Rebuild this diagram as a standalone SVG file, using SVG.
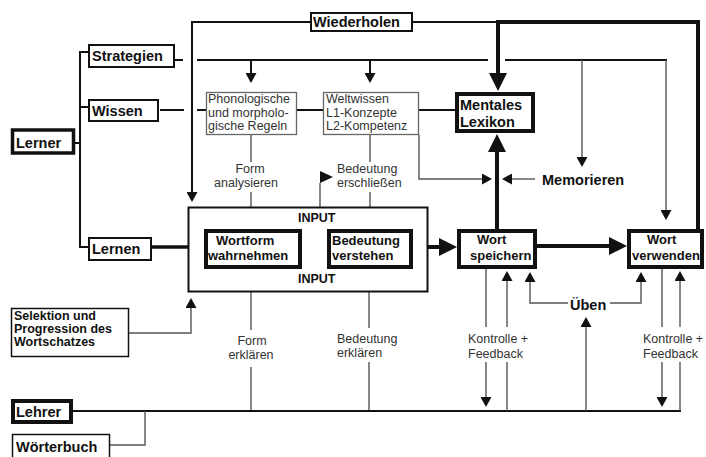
<svg xmlns="http://www.w3.org/2000/svg" width="706" height="457" viewBox="0 0 706 457">
<style>
text{font-family:"Liberation Sans",Arial,sans-serif}
.b{font-weight:bold;font-size:14.5px;fill:#111}
.bm{font-weight:bold;font-size:13px;fill:#111}
.bs{font-weight:bold;font-size:12.5px;fill:#111}
.n{font-size:12.5px;fill:#333}
.nc{font-size:12.5px;fill:#333;text-anchor:middle}
.box{fill:#fff;stroke:#111;stroke-width:2}
.thick{fill:#fff;stroke:#111;stroke-width:4}
.thin{fill:#fff;stroke:#111;stroke-width:1.5}
.gbox{fill:#fff;stroke:#666;stroke-width:1.3}
.k{fill:none;stroke:#111;stroke-width:2}
.g{fill:none;stroke:#555;stroke-width:1.4}
.K{fill:none;stroke:#111;stroke-width:4}
.ah{fill:#111}
</style>
<defs>
<marker id="a" markerUnits="userSpaceOnUse" viewBox="0 0 10 11" refX="2" refY="5.5" markerWidth="10" markerHeight="11" orient="auto"><path d="M0,0 L10,5.5 L0,11 z" fill="#111"/></marker>
<marker id="A" markerUnits="userSpaceOnUse" viewBox="0 0 18 18" refX="2" refY="9" markerWidth="18" markerHeight="18" orient="auto"><path d="M0,0 L18,9 L0,18 z" fill="#111"/></marker>
</defs>
<g id="connectors">
<path class="k" d="M310,22 H192 V194" marker-end="url(#a)"/>
<path class="k" d="M413,22 H497"/>
<path class="K" d="M698,229 V22 H498 V75" marker-end="url(#A)"/>
<path class="k" d="M175,60 H183"/>
<path class="k" d="M197,60 H488"/>
<path class="k" d="M505,60 H667"/>
<path class="g" d="M666,60 V212" marker-end="url(#a)"/>
<path class="g" d="M582,60 V159" marker-end="url(#a)"/>
<path class="k" d="M251,60 V75" marker-end="url(#a)"/>
<path class="k" d="M370,60 V75" marker-end="url(#a)"/>
<path class="k" d="M160,110 H184"/>
<path class="k" d="M197,110 H206"/>
<path class="k" d="M297,110 H323"/>
<path class="k" d="M419,110 H455"/>
<path class="k" d="M88,52 H80 V247 H88"/>
<path class="k" d="M75,143 H80"/>
<path class="k" d="M80,107 H88"/>
<path class="K" d="M152,247 H188" style="stroke-width:3.5"/>
<path class="K" d="M428,247 H441" marker-end="url(#A)"/>
<path class="K" d="M302,248 H327"/>
<path class="K" d="M537,246 H611" marker-end="url(#A)"/>
<path class="K" d="M497,229 V150" marker-end="url(#A)"/>
<path class="g" d="M251,135 V162"/>
<path class="g" d="M251,192 V216" marker-end="url(#a)"/>
<path class="g" d="M370,135 V162"/>
<path class="g" d="M370,192 V216" marker-end="url(#a)"/>
<path class="g" d="M320,207 V183"/>
<polygon class="ah" points="320,171 333,177 320,183"/>
<path class="g" d="M419,135 V179 H484" marker-end="url(#a)"/>
<path class="g" d="M535,179 H510" marker-end="url(#a)"/>
<path class="g" d="M251,330 V286" marker-end="url(#a)"/>
<path class="g" d="M369,328 V286" marker-end="url(#a)"/>
<path class="g" d="M251,367 V411"/>
<path class="g" d="M369,362 V411"/>
<path class="g" d="M129,333 H191 V306" marker-end="url(#a)"/>
<path class="k" d="M73,411 H681"/>
<path class="g" d="M110,445 H145 V411"/>
<path class="g" d="M486,269 V327"/>
<path class="g" d="M486,362 V399" marker-end="url(#a)"/>
<path class="g" d="M507,327 V279" marker-end="url(#a)"/>
<path class="g" d="M507,362 V411"/>
<path class="g" d="M662,269 V327"/>
<path class="g" d="M662,362 V399" marker-end="url(#a)"/>
<path class="g" d="M680,327 V279" marker-end="url(#a)"/>
<path class="g" d="M680,362 V411"/>
<path class="g" d="M568,303 H530 V280" marker-end="url(#a)"/>
<path class="g" d="M610,303 H641 V280" marker-end="url(#a)"/>
<path class="g" d="M586,411 V325" marker-end="url(#a)"/>
</g>
<g id="lerner"><rect class="thick" x="12.5" y="130" width="61" height="23" style="stroke-width:3.5"/><text class="b" x="16" y="148">Lerner</text></g>
<g id="strategien"><rect class="box" x="89" y="45" width="85" height="22"/><text class="b" x="92" y="61">Strategien</text></g>
<g id="wissen"><rect class="box" x="89" y="100" width="69" height="21"/><text class="b" x="92" y="116">Wissen</text></g>
<g id="lernen"><rect class="box" x="89" y="238" width="62" height="22"/><text class="b" x="92" y="254">Lernen</text></g>
<g id="wiederholen"><rect class="box" x="311" y="13" width="101" height="18"/><text class="b" x="313" y="27">Wiederholen</text></g>
<g id="regeln"><rect class="gbox" x="206.5" y="92.5" width="90" height="42"/><text class="n" x="208" y="103">Phonologische</text><text class="n" x="208" y="117">und morpholo-</text><text class="n" x="208" y="130">gische Regeln</text></g>
<g id="weltwissen"><rect class="gbox" x="323.5" y="92.5" width="95" height="42"/><text class="n" x="326" y="103">Weltwissen</text><text class="n" x="326" y="117">L1-Konzepte</text><text class="n" x="326" y="130">L2-Kompetenz</text></g>
<g id="lexikon"><rect class="thick" x="457" y="94" width="76" height="37"/><text class="b" x="460" y="110">Mentales</text><text class="b" x="460" y="127">Lexikon</text></g>
<g id="input"><rect class="box" x="188.5" y="207.5" width="239" height="84"/><text class="bs" x="298" y="222">INPUT</text><text class="bs" x="298" y="283">INPUT</text></g>
<g id="wortform"><rect class="thick" x="206" y="231" width="94" height="36"/><text class="bm" x="216" y="245">Wortform</text><text class="bm" x="208" y="260">wahrnehmen</text></g>
<g id="bedeutung"><rect class="thick" x="329" y="231" width="82" height="36"/><text class="bm" x="332" y="245">Bedeutung</text><text class="bm" x="332" y="260">verstehen</text></g>
<g id="speichern"><rect class="thick" x="459" y="231" width="76" height="36"/><text class="bm" x="477" y="244">Wort</text><text class="bm" x="470" y="260">speichern</text></g>
<g id="verwenden"><rect class="thick" x="629" y="231" width="73" height="36"/><text class="bm" x="647" y="244">Wort</text><text class="bm" x="632" y="260">verwenden</text></g>
<g id="selektion"><rect class="thin" x="11.5" y="308.5" width="117" height="48"/><text class="bs" x="14" y="320">Selektion und</text><text class="bs" x="14" y="333">Progression des</text><text class="bs" x="14" y="346">Wortschatzes</text></g>
<g id="lehrer"><rect class="thick" x="13" y="401" width="58" height="21"/><text class="b" x="16" y="417">Lehrer</text></g>
<g id="woerterbuch"><rect class="thin" x="12.5" y="434.5" width="97" height="30"/><text class="b" x="16" y="452">Wörterbuch</text></g>
<g id="labels">
<text class="nc" x="250" y="173">Form</text><text class="nc" x="246" y="187">analysieren</text>
<text class="n" x="337" y="173">Bedeutung</text><text class="n" x="337" y="187">erschließen</text>
<text class="b" x="542" y="185">Memorieren</text>
<text class="b" x="570" y="310">Üben</text>
<text class="nc" x="252" y="345">Form</text><text class="nc" x="251" y="359">erklären</text>
<text class="n" x="337" y="343">Bedeutung</text><text class="n" x="337" y="357">erklären</text>
<text class="n" x="468" y="343">Kontrolle +</text><text class="n" x="468" y="358">Feedback</text>
<text class="n" x="643" y="343">Kontrolle +</text><text class="n" x="643" y="358">Feedback</text>
</g>
</svg>
